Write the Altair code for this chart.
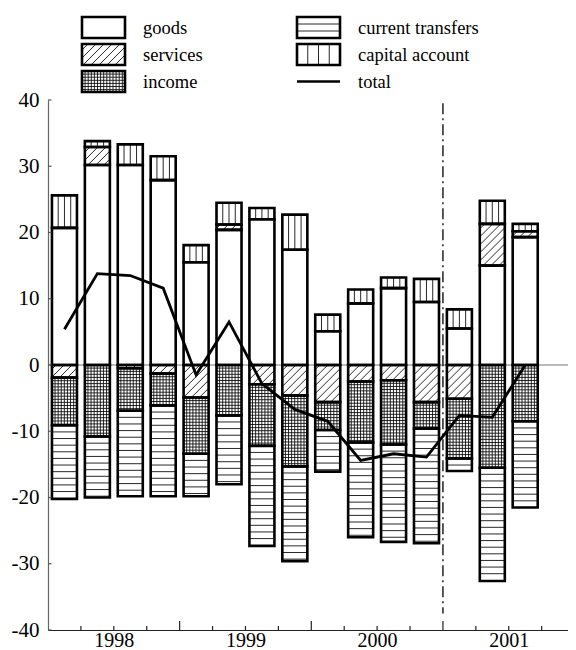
import json
import math
import altair as alt
import pandas as pd

# ---------------- data ----------------
quarters = ["1998Q1", "1998Q2", "1998Q3", "1998Q4",
            "1999Q1", "1999Q2", "1999Q3", "1999Q4",
            "2000Q1", "2000Q2", "2000Q3", "2000Q4",
            "2001Q1", "2001Q2", "2001Q3"]
goods = [20.7, 30.2, 30.2, 27.9, 15.5, 20.4, 22.0, 17.4, 5.1, 9.3, 11.6, 9.5, 5.5, 15.0, 19.3]
services = [-1.9, 2.7, -0.5, -1.3, -4.9, 0.8, -2.9, -4.6, -5.6, -2.5, -2.3, -5.6, -5.1, 6.3, 0.9]
income = [-7.2, -10.8, -6.4, -4.8, -8.5, -7.6, -9.3, -10.7, -4.2, -9.2, -9.7, -4.0, -9.0, -15.5, -8.5]
current_transfers = [-11.1, -9.2, -12.9, -13.7, -6.4, -10.4, -15.1, -14.3, -6.3, -14.3, -14.7, -17.3, -1.9, -17.1, -13.0]
capital_account = [4.9, 0.9, 3.1, 3.6, 2.6, 3.3, 1.7, 5.3, 2.5, 2.1, 1.6, 3.5, 2.9, 3.5, 1.1]
total = [5.4, 13.8, 13.5, 11.6, -1.5, 6.5, -2.8, -6.7, -8.5, -14.4, -13.4, -13.9, -7.6, -7.9, 0.0]
years = ["1998", "1999", "2000", "2001"]
y_ticks = [-40, -30, -20, -10, 0, 10, 20, 30, 40]
break_quarter = 12  # dash-dot separator before 2001

series_names = ["goods", "services", "income", "current transfers", "capital account"]
series_values = [goods, services, income, current_transfers, capital_account]

# ---------------- layout / style ----------------
PXX = 32.94          # pixels per quarter
XMAX = 15.8          # visible part of the quarter axis
W = round(XMAX * PXX)
H = 530
YMIN, YMAX = -40, 40
PXY = H / (YMAX - YMIN)
BAR_L, BAR_R = 0.12, 0.88
FONT = "Liberation Serif"
INK = "#111111"

xs = alt.Scale(domain=[0, XMAX], nice=False, zero=False)
ys = alt.Scale(domain=[YMIN, YMAX], nice=False, zero=False)


def hatch(kind, X0, X1, Y0, Y1, legend=False):
    """Pattern line segments inside a rectangle, pixel units, Y pointing up."""
    out = []
    if kind == "current transfers":
        sp = (Y1 - Y0) / 3 if legend else PXY
        y = Y1 - sp
        while y > Y0 + 1.0:
            out.append((X0, y, X1, y))
            y -= sp
    elif kind == "capital account":
        for k in (1, 2, 3):
            x = X0 + (X1 - X0) * k / 4
            out.append((x, Y0, x, Y1))
    elif kind == "income":
        sp = 3.1
        x = X0 + sp
        while x < X1 - 0.8:
            out.append((x, Y0, x, Y1))
            x += sp
        y = Y1 - sp
        while y > Y0 + 0.8:
            out.append((X0, y, X1, y))
            y -= sp
    elif kind == "services":
        sp = 8.0
        c = math.floor((X0 - Y1) / sp) * sp
        while c <= X1 - Y0:
            lo = max(X0, Y0 + c)
            hi = min(X1, Y1 + c)
            if hi - lo > 0.6:
                out.append((lo, lo - c, hi, hi - c))
            c += sp
    return out


# ---------------- stacked segments ----------------
seg_rows, hatch_rows = [], []
for i in range(len(quarters)):
    pos, neg = 0.0, 0.0
    for name, arr in zip(series_names, series_values):
        v = arr[i]
        if v >= 0:
            y0, y1 = pos, pos + v
            pos += v
        else:
            y0, y1 = neg + v, neg
            neg += v
        x0, x1 = i + BAR_L, i + BAR_R
        seg_rows.append(dict(quarter=quarters[i], series=name, value=v, x0=x0, x1=x1, y0=y0, y1=y1))
        for (xa, ya, xb, yb) in hatch(name, x0 * PXX, x1 * PXX, y0 * PXY, y1 * PXY):
            hatch_rows.append(dict(xa=xa / PXX, ya=ya / PXY, xb=xb / PXX, yb=yb / PXY))

seg_df = pd.DataFrame(seg_rows)
hatch_df = pd.DataFrame(hatch_rows)
total_df = pd.DataFrame({"quarter": quarters, "xc": [i + 0.5 for i in range(len(quarters))], "total": total})

# ---------------- layers ----------------
zero_line = alt.Chart(pd.DataFrame({"a": [0], "b": [XMAX], "y": [0]})).mark_rule(
    color="#777777", strokeWidth=1.2
).encode(
    x=alt.X("a:Q", scale=xs, axis=None), x2="b:Q",
    y=alt.Y("y:Q", scale=ys, axis=None),
)

bar_fill = alt.Chart(seg_df).mark_rect(fill="white", stroke=None).encode(
    x=alt.X("x0:Q", scale=xs, axis=None), x2="x1:Q",
    y=alt.Y("y0:Q", scale=ys, axis=None), y2="y1:Q",
)

bar_hatch = alt.Chart(hatch_df).mark_rule(color=INK, strokeWidth=0.9).encode(
    x=alt.X("xa:Q", scale=xs, axis=None), x2="xb:Q",
    y=alt.Y("ya:Q", scale=ys, axis=None), y2="yb:Q",
)

year_expr = "%s[floor(datum.value / 4)]" % json.dumps(years)
minus_expr = "datum.value < 0 ? '-' + abs(datum.value) : '' + datum.value"

bar_edge = alt.Chart(seg_df).mark_rect(fillOpacity=0, stroke="black", strokeWidth=2.6).encode(
    x=alt.X("x0:Q", scale=xs, axis=alt.Axis(
        values=[2, 6, 10, 14], labelExpr=year_expr, ticks=False, grid=False, title=None,
        domainColor="#222222", domainWidth=1.2, labelFont=FONT, labelFontSize=20,
        labelColor="black", labelPadding=0)),
    x2="x1:Q",
    y=alt.Y("y0:Q", scale=ys, axis=alt.Axis(
        values=y_ticks, labelExpr=minus_expr, ticks=False, grid=False, title=None,
        domainColor="#666666", domainWidth=1.2, labelFont=FONT, labelFontSize=21,
        labelColor="black", labelPadding=9)),
    y2="y1:Q",
    tooltip=["quarter:N", "series:N", "value:Q"],
)

sep_line = alt.Chart(pd.DataFrame({"x": [break_quarter], "ya": [YMAX - 0.5], "yb": [YMIN + 2.5]})).mark_rule(
    color="black", strokeWidth=1.3, strokeDash=[11, 4, 2, 4]
).encode(
    x=alt.X("x:Q", scale=xs, axis=None),
    y=alt.Y("ya:Q", scale=ys, axis=None), y2="yb:Q",
)

total_line = alt.Chart(total_df).mark_line(color="black", strokeWidth=2.8).encode(
    x=alt.X("xc:Q", scale=xs, axis=None),
    y=alt.Y("total:Q", scale=ys, axis=None),
)

# inward ticks
xt_rows = []
for q in range(1, 16):
    ln = 9.0 if q % 4 == 0 else 4.0
    xt_rows.append(dict(x=q, ya=YMIN, yb=YMIN + ln / PXY))
x_ticks = alt.Chart(pd.DataFrame(xt_rows)).mark_rule(color="#222222", strokeWidth=1.2).encode(
    x=alt.X("x:Q", scale=xs, axis=None),
    y=alt.Y("ya:Q", scale=ys, axis=None), y2="yb:Q",
)
yt_df = pd.DataFrame({"xa": [0.0] * len(y_ticks), "xb": [3.5 / PXX] * len(y_ticks), "y": y_ticks})
y_ticks_layer = alt.Chart(yt_df).mark_rule(color="#555555", strokeWidth=1.2).encode(
    x=alt.X("xa:Q", scale=xs, axis=None), x2="xb:Q",
    y=alt.Y("y:Q", scale=ys, axis=None),
)

# ---------------- legend (pixel space) ----------------
legend_items = [
    ("goods", 0, 0), ("services", 0, 1), ("income", 0, 2),
    ("current transfers", 1, 0), ("capital account", 1, 1), ("total", 1, 2),
]
col_box = [(34, 77), (249, 292)]
col_text = [95, 310]
row_cy = [-72.5, -45.5, -18.5]
BOX_HALF = 10.5

lbox, lhatch, ltext, lline = [], [], [], []
for name, c, r in legend_items:
    bx0, bx1 = col_box[c]
    cy = row_cy[r]
    ltext.append(dict(px=col_text[c], py=cy, label=name))
    if name == "total":
        lline.append(dict(px=bx0, px2=bx1, py=cy))
        continue
    lbox.append(dict(px=bx0, px2=bx1, py=cy - BOX_HALF, py2=cy + BOX_HALF))
    for (xa, ya, xb, yb) in hatch(name, bx0, bx1, -(cy + BOX_HALF), -(cy - BOX_HALF), legend=True):
        lhatch.append(dict(px=xa, py=-ya, px2=xb, py2=-yb))


def LX(f):
    return alt.X(f, type="quantitative", scale=None, axis=None)


def LY(f):
    return alt.Y(f, type="quantitative", scale=None, axis=None)


leg_fill = alt.Chart(pd.DataFrame(lbox)).mark_rect(fill="white").encode(
    x=LX("px"), x2="px2", y=LY("py"), y2="py2")
leg_hatch = alt.Chart(pd.DataFrame(lhatch)).mark_rule(color=INK, strokeWidth=0.9).encode(
    x=LX("px"), x2="px2", y=LY("py"), y2="py2")
leg_edge = alt.Chart(pd.DataFrame(lbox)).mark_rect(fillOpacity=0, stroke="black", strokeWidth=2.6).encode(
    x=LX("px"), x2="px2", y=LY("py"), y2="py2")
leg_line = alt.Chart(pd.DataFrame(lline)).mark_rule(color="black", strokeWidth=2.6).encode(
    x=LX("px"), x2="px2", y=LY("py"))
leg_text = alt.Chart(pd.DataFrame(ltext)).mark_text(
    align="left", baseline="middle", font=FONT, fontSize=18.5, color="black"
).encode(x=LX("px"), y=LY("py"), text="label:N")

chart = alt.layer(
    zero_line, bar_fill, bar_hatch, bar_edge, sep_line, total_line, x_ticks, y_ticks_layer,
    leg_fill, leg_hatch, leg_edge, leg_line, leg_text,
).resolve_scale(
    x="independent", y="independent"
).properties(
    width=W, height=H,
    padding={"left": 40, "top": 92, "right": 0, "bottom": 20},
    autosize=alt.AutoSizeParams(type="none"),
).configure(
    font=FONT
).configure_axis(
    labelFont=FONT
).configure_view(stroke=None)

chart.save("out.html", embed_options={"renderer": "svg", "actions": False})
